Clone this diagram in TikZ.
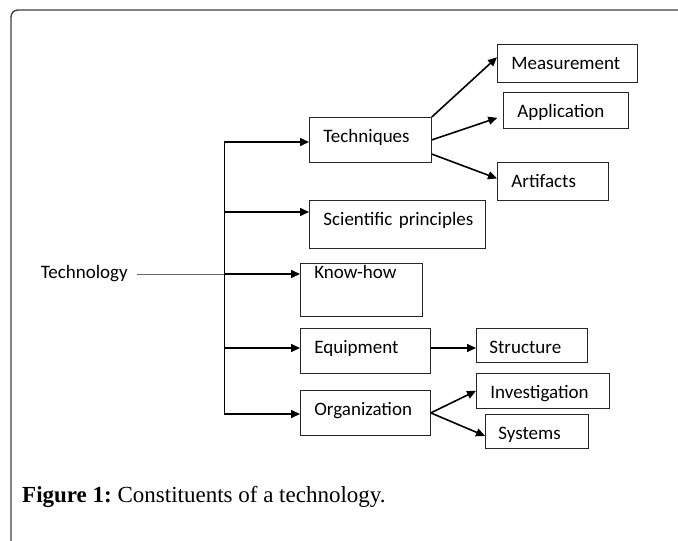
\documentclass[tikz,border=0pt]{standalone}
\usepackage{fontspec}
\setmainfont{Liberation Serif}
\newfontfamily\boxfont{Carlito}
\usetikzlibrary{arrows.meta}
\frenchspacing
\begin{document}
\begin{tikzpicture}
    [x=1pt, y=-1pt,
      box/.style 2 args={draw=black!85, line width=0.8pt, anchor=north west,
        inner xsep=14pt, inner ysep=0pt, text height=25pt,
        text width=#1, text depth=#2, align=left,
        font=\boxfont\fontsize{19}{22}\selectfont},
      link/.style={-{Triangle[length=9pt, width=8pt]}, line width=1.6pt},
      trunk/.style={line width=1pt},
      frame/.style={draw=black!75, line width=1.4pt, rounded corners=7pt}]
    \useasboundingbox (0,0) rectangle (678,541);
    \draw[frame] (678,10) -- (11,10) -- (11,541);
    \node[box={94pt}{20pt}] (techniques) at (309,117) {Techniques};
    \node[box={148pt}{23pt}] (principles) at (309,200) {\mbox{Scientific principles}};
    \node[box={94pt}{38pt}, text height=15pt] (knowhow) at (300,263) {\mbox{Know-how}};
    \node[box={102pt}{20pt}] (equipment) at (300,328) {Equipment};
    \node[box={102pt}{20pt}] (organization) at (300,390) {Organization};
    \node[box={112pt}{13pt}] (measurement) at (497,44) {Measurement};
    \node[box={97pt}{11pt}] (application) at (503,92) {Application};
    \node[box={83pt}{13pt}] (artifacts) at (497,162) {Artifacts};
    \node[box={85pt}{9pt}, inner xsep=13pt] (structure) at (476,328) {Structure};
    \node[box={105pt}{10pt}] (investigation) at (476,373) {Investigation};
    \node[box={77pt}{9pt}, inner xsep=13pt] (systems) at (485,414) {Systems};
    \node[font=\boxfont\fontsize{19}{22}\selectfont, anchor=east, inner xsep=9pt]
      (technology) at (137,274) {Technology};
    \coordinate (b1) at (224,142);
    \coordinate (b2) at (224,212);
    \coordinate (b3) at (224,274);
    \coordinate (b4) at (224,348);
    \coordinate (b5) at (224,414);
    \draw[trunk] (b1) -- (b5);
    \draw[draw=black!60, line width=0.9pt] (technology) -- (b3);
    \draw[link] (b1) -- (b1 -| techniques.west);
    \draw[link] (b2) -- (b2 -| principles.west);
    \draw[link] (b3) -- (b3 -| knowhow.west);
    \draw[link] (b4) -- (b4 -| equipment.west);
    \draw[link] (b5) -- (b5 -| organization.west);
    \draw[link] (techniques.north east) -- (measurement.175);
    \draw[link, shorten >=6pt] (techniques.east) -- (application.185);
    \draw[link] (techniques.-13) -- (artifacts.177);
    \draw[link] (equipment.east |- b4) -- (structure.west |- b4);
    \draw[link] (organization.east) -- (investigation.west);
    \draw[link] (organization.east) -- (systems.185);
    \node[anchor=base west, inner sep=0pt, font=\fontsize{23}{27}\selectfont]
      (caption) at (22,502) {\textbf{Figure 1:} Constituents of a technology.};
\end{tikzpicture}
\end{document}
